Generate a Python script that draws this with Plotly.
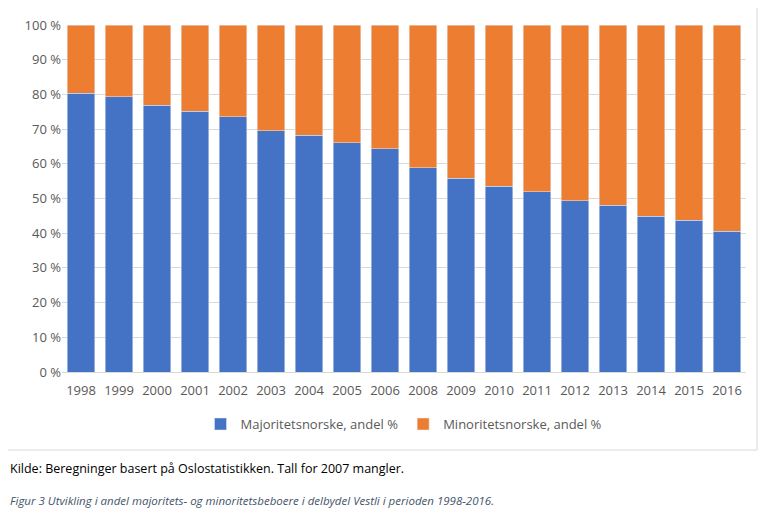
import plotly.graph_objects as go

years = ["1998", "1999", "2000", "2001", "2002", "2003", "2004", "2005", "2006",
         "2008", "2009", "2010", "2011", "2012", "2013", "2014", "2015", "2016"]
majoritet = [80.4, 79.3, 76.9, 75.2, 73.5, 69.5, 68.3, 66.0, 64.3,
             58.8, 55.9, 53.6, 51.9, 49.3, 48.1, 44.9, 43.8, 40.6]
minoritet = [round(100 - v, 1) for v in majoritet]

fig = go.Figure()
fig.add_trace(go.Bar(x=years, y=majoritet, name="Majoritetsnorske, andel %",
                     marker_color="#4472C4"))
fig.add_trace(go.Bar(x=years, y=minoritet, name="Minoritetsnorske, andel %",
                     marker_color="#ED7D31"))

# page has an 8px body margin, so the figure is 8px smaller each way
fig.update_layout(
    barmode="stack", bargap=0.27,
    width=761, height=504,
    margin=dict(l=54, r=23, t=17, b=140),
    plot_bgcolor="white", paper_bgcolor="white",
    font=dict(family="Open Sans, Liberation Sans, sans-serif", size=13, color="#595959"),
    legend=dict(orientation="h", x=0.5, xanchor="center", y=-0.15, yanchor="middle",
                font=dict(size=13), traceorder="normal"),
)
fig.update_yaxes(range=[0, 100], dtick=10, ticksuffix=" %", gridcolor="#d9d9d9",
                 zeroline=False, showline=False, automargin=False)
fig.update_xaxes(showline=True, linecolor="#d9d9d9", ticks="", automargin=False,
                 ticklabelstandoff=6)

# chart frame
fig.add_shape(type="rect", xref="paper", yref="paper", x0=-0.083, x1=1.016,
              y0=-0.225, y1=1.058, line=dict(color="#d9d9d9", width=1))

fig.add_annotation(xref="paper", yref="paper", x=-0.079, y=-0.277, xanchor="left",
                   yanchor="middle", showarrow=False,
                   text="Kilde: Beregninger basert på Oslostatistikken. Tall for 2007 mangler.",
                   font=dict(size=12.5, color="black"))
fig.add_annotation(xref="paper", yref="paper", x=-0.079, y=-0.369, xanchor="left",
                   yanchor="middle", showarrow=False,
                   text="<i>Figur 3 Utvikling i andel majoritets- og minoritetsbeboere i delbydel Vestli i perioden 1998-2016.</i>",
                   font=dict(size=11.5, color="#44546A"))

fig.write_html("out.html")
